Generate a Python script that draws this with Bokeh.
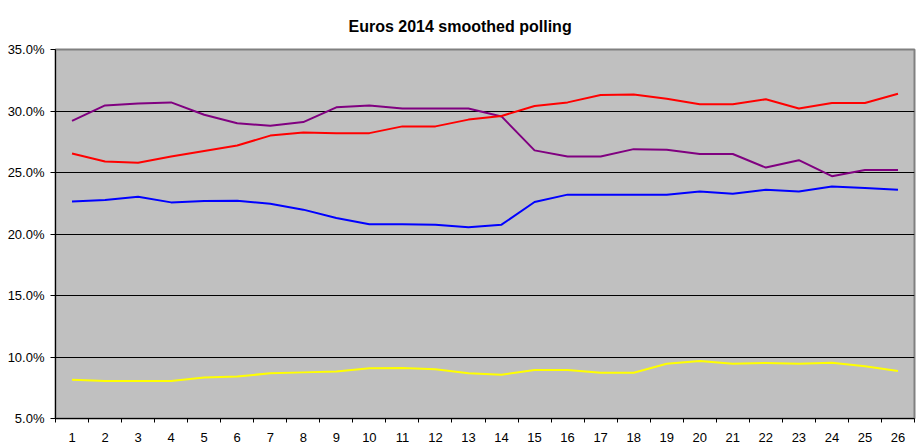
from bokeh.plotting import figure
from bokeh.models import FixedTicker, PrintfTickFormatter, Range1d
from bokeh.embed import file_html
from bokeh.resources import INLINE

weeks = list(range(1, 27))
x_labels = [str(w) for w in weeks]
y_ticks = [5, 10, 15, 20, 25, 30, 35]

purple = [29.2, 30.45, 30.6, 30.7, 29.7, 29.0, 28.8, 29.1, 30.3, 30.45, 30.2, 30.2, 30.2,
          29.56, 26.8, 26.3, 26.3, 26.9, 26.85, 26.5, 26.5, 25.4, 26.0, 24.7, 25.2, 25.2]
red = [26.55, 25.9, 25.8, 26.3, 26.75, 27.2, 28.0, 28.25, 28.2, 28.2, 28.75, 28.75, 29.3,
       29.6, 30.4, 30.7, 31.3, 31.35, 31.0, 30.55, 30.55, 30.95, 30.2, 30.65, 30.65, 31.4]
blue = [22.65, 22.76, 23.03, 22.57, 22.68, 22.7, 22.46, 21.98, 21.3, 20.8, 20.8, 20.75, 20.54,
        20.76, 22.6, 23.2, 23.2, 23.2, 23.2, 23.46, 23.28, 23.6, 23.46, 23.87, 23.74, 23.6]
yellow = [8.15, 8.04, 8.04, 8.04, 8.34, 8.42, 8.67, 8.75, 8.83, 9.08, 9.1, 9.0, 8.67,
          8.56, 8.94, 8.94, 8.72, 8.72, 9.45, 9.67, 9.45, 9.51, 9.45, 9.53, 9.24, 8.86]

series = [(purple, "#800080"), (red, "#FF0000"), (blue, "#0000FF"), (yellow, "#FFFF00")]

p = figure(width=918, height=446, output_backend="svg", toolbar_location=None,
           x_range=Range1d(0.5, 26.5), y_range=Range1d(5, 35),
           min_border_left=55, min_border_right=4, min_border_top=49, min_border_bottom=28)

p.title.text = "Euros 2014 smoothed polling"
p.title.align = "left"
p.title.offset = 293
p.title.standoff = 29
p.title.text_font = "Liberation Sans"
p.title.text_font_size = "16px"
p.title.text_font_style = "bold"
p.title.text_color = "#000000"

p.background_fill_color = "#C0C0C0"
p.border_fill_color = "#FFFFFF"
p.outline_line_color = "#808080"
p.outline_line_width = 2

for data, color in series:
    p.line(weeks, data, line_color=color, line_width=2)

p.xgrid.visible = False
p.ygrid.ticker = FixedTicker(ticks=y_ticks)
p.ygrid.grid_line_color = "#000000"
p.ygrid.grid_line_width = 1

xa = p.xaxis[0]
xa.ticker = FixedTicker(ticks=weeks, minor_ticks=[w + 0.5 for w in [0] + weeks])
xa.major_label_overrides = {w: s for w, s in zip(weeks, x_labels)}
xa.major_tick_in = 0
xa.major_tick_out = 0
xa.minor_tick_in = 0
xa.minor_tick_out = 4
xa.minor_tick_line_color = "#000000"
xa.axis_line_color = "#000000"
xa.major_label_standoff = 10
xa.major_label_text_font = "Liberation Sans"
xa.major_label_text_font_size = "13px"
xa.major_label_text_color = "#000000"

ya = p.yaxis[0]
ya.ticker = FixedTicker(ticks=y_ticks)
ya.formatter = PrintfTickFormatter(format="%.1f%%")
ya.major_tick_in = 0
ya.major_tick_out = 5
ya.minor_tick_out = 0
ya.minor_tick_in = 0
ya.axis_line_color = "#000000"
ya.major_tick_line_color = "#000000"
ya.major_label_standoff = 6
ya.major_label_text_font = "Liberation Sans"
ya.major_label_text_font_size = "13px"
ya.major_label_text_color = "#000000"

open("out.html", "w").write(file_html(p, INLINE))
